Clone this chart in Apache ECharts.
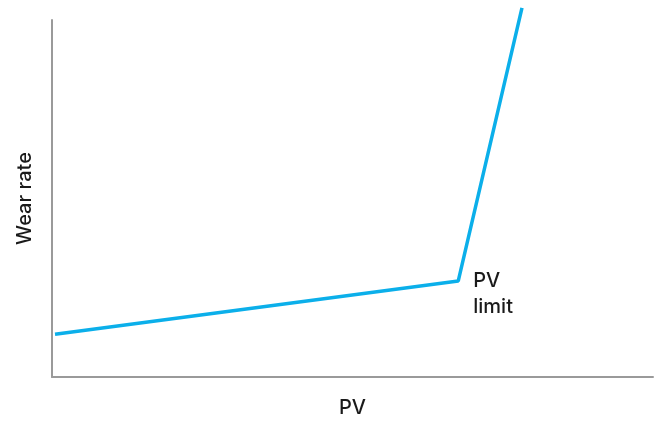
<!DOCTYPE html>
<html>
<head>
<meta charset="utf-8">
<script src="https://cdn.jsdelivr.net/npm/echarts@6/dist/echarts.min.js"></script>
<style>html,body{margin:0;padding:0;background:#fff;overflow:hidden}#c{width:657px;height:421px}</style>
</head>
<body>
<div id="c"></div>
<script>
var xValues = [0.5, 67.6, 78.2];
var wearValues = [12.0, 26.9, 103.4];
var xAxisName = 'PV';
var yAxisName = 'Wear rate';
var kinkLabel = 'PV\nlimit';

var FONT = 'Inter, Liberation Sans, Arial, sans-serif';
var TXT = {color: '#1a1a1a', fontSize: 20, fontWeight: 500, fontFamily: FONT};
var chart = echarts.init(document.getElementById('c'), null, {renderer: 'canvas'});
var data = xValues.map(function (x, i) { return [x, wearValues[i]]; });
chart.setOption({
  animation: false,
  grid: {left: 52, right: 4, top: 20, bottom: 44, containLabel: false, outerBoundsMode: 'none'},
  xAxis: {type: 'value', min: 0, max: 100,
    name: xAxisName, nameLocation: 'middle', nameGap: 21,
    nameTextStyle: TXT,
    axisLine: {show: true, lineStyle: {color: '#9a9a9a', width: 2}},
    axisTick: {show: false}, axisLabel: {show: false}, splitLine: {show: false}},
  yAxis: {type: 'value', min: 0, max: 100,
    name: yAxisName, nameLocation: 'middle', nameGap: 17, nameRotate: 90,
    nameTextStyle: TXT,
    axisLine: {show: true, lineStyle: {color: '#9a9a9a', width: 2}},
    axisTick: {show: false}, axisLabel: {show: false}, splitLine: {show: false}},
  series: [{type: 'line', data: data, clip: false, symbol: 'none', showSymbol: false,
    lineStyle: {color: '#0bafea', width: 3.5},
    markPoint: {
      symbol: 'circle', symbolSize: 2,
      itemStyle: {color: 'rgba(0,0,0,0)'},
      data: [{coord: data[1],
        label: {show: true, formatter: kinkLabel, position: 'right', distance: 5, offset: [9, 13],
          color: '#1a1a1a', fontSize: 20, fontWeight: 500, lineHeight: 26, fontFamily: FONT}}]
    }}]
});
</script>
</body>
</html>
